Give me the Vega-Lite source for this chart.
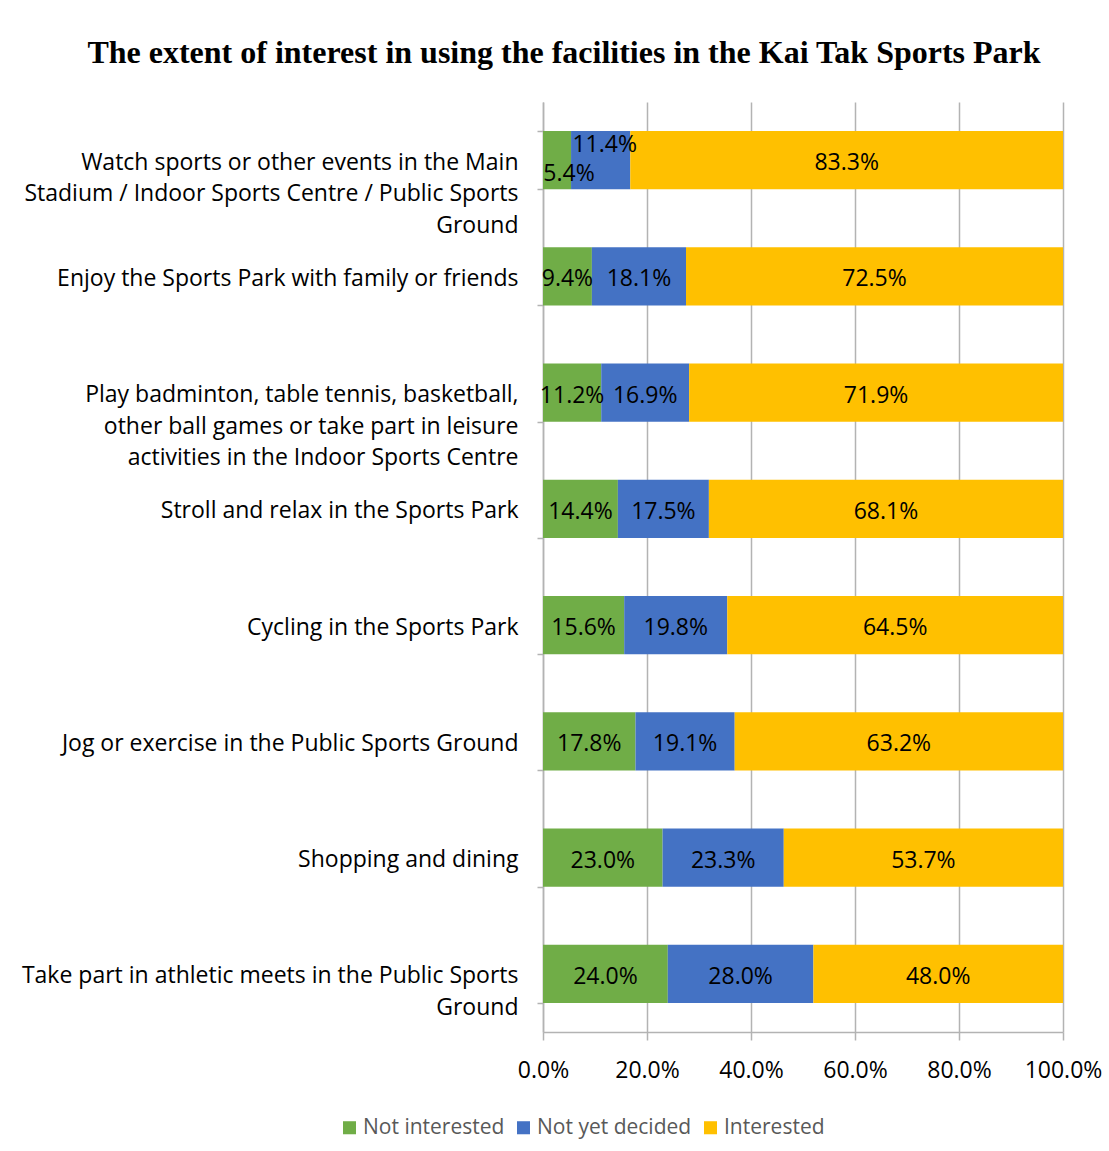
{
  "$schema": "https://vega.github.io/schema/vega-lite/v6.json",
  "width": 520,
  "height": 930,
  "autosize": {"type": "none"},
  "padding": {"left": 543, "top": 102, "right": 46, "bottom": 119},
  "background": "white",
  "config": {"view": {"stroke": null}},
  "title": {
    "text": "The extent of interest in using the facilities in the Kai Tak Sports Park",
    "font": "Liberation Serif",
    "fontSize": 32,
    "fontWeight": "bold",
    "color": "#000000",
    "anchor": "middle",
    "frame": "group",
    "dx": -239,
    "dy": 4,
    "baseline": "alphabetic",
    "offset": 0
  },
  "data": {
    "values": [
      {"item": "Watch sports or other events in the Main\nStadium / Indoor Sports Centre / Public Sports\nGround", "cat": "Not interested", "k": 1, "pct": 5.4},
      {"item": "Watch sports or other events in the Main\nStadium / Indoor Sports Centre / Public Sports\nGround", "cat": "Not yet decided", "k": 2, "pct": 11.4},
      {"item": "Watch sports or other events in the Main\nStadium / Indoor Sports Centre / Public Sports\nGround", "cat": "Interested", "k": 3, "pct": 83.3},
      {"item": "Enjoy the Sports Park with family or friends", "cat": "Not interested", "k": 1, "pct": 9.4},
      {"item": "Enjoy the Sports Park with family or friends", "cat": "Not yet decided", "k": 2, "pct": 18.1},
      {"item": "Enjoy the Sports Park with family or friends", "cat": "Interested", "k": 3, "pct": 72.5},
      {"item": "Play badminton, table tennis, basketball,\nother ball games or take part in leisure\nactivities in the Indoor Sports Centre", "cat": "Not interested", "k": 1, "pct": 11.2},
      {"item": "Play badminton, table tennis, basketball,\nother ball games or take part in leisure\nactivities in the Indoor Sports Centre", "cat": "Not yet decided", "k": 2, "pct": 16.9},
      {"item": "Play badminton, table tennis, basketball,\nother ball games or take part in leisure\nactivities in the Indoor Sports Centre", "cat": "Interested", "k": 3, "pct": 71.9},
      {"item": "Stroll and relax in the Sports Park", "cat": "Not interested", "k": 1, "pct": 14.4},
      {"item": "Stroll and relax in the Sports Park", "cat": "Not yet decided", "k": 2, "pct": 17.5},
      {"item": "Stroll and relax in the Sports Park", "cat": "Interested", "k": 3, "pct": 68.1},
      {"item": "Cycling in the Sports Park", "cat": "Not interested", "k": 1, "pct": 15.6},
      {"item": "Cycling in the Sports Park", "cat": "Not yet decided", "k": 2, "pct": 19.8},
      {"item": "Cycling in the Sports Park", "cat": "Interested", "k": 3, "pct": 64.5},
      {"item": "Jog or exercise in the Public Sports Ground", "cat": "Not interested", "k": 1, "pct": 17.8},
      {"item": "Jog or exercise in the Public Sports Ground", "cat": "Not yet decided", "k": 2, "pct": 19.1},
      {"item": "Jog or exercise in the Public Sports Ground", "cat": "Interested", "k": 3, "pct": 63.2},
      {"item": "Shopping and dining", "cat": "Not interested", "k": 1, "pct": 23.0},
      {"item": "Shopping and dining", "cat": "Not yet decided", "k": 2, "pct": 23.3},
      {"item": "Shopping and dining", "cat": "Interested", "k": 3, "pct": 53.7},
      {"item": "Take part in athletic meets in the Public Sports\nGround", "cat": "Not interested", "k": 1, "pct": 24.0},
      {"item": "Take part in athletic meets in the Public Sports\nGround", "cat": "Not yet decided", "k": 2, "pct": 28.0},
      {"item": "Take part in athletic meets in the Public Sports\nGround", "cat": "Interested", "k": 3, "pct": 48.0}
    ]
  },
  "transform": [
    {"stack": "pct", "groupby": ["item"], "sort": [{"field": "k", "order": "ascending"}], "offset": "normalize", "as": ["x0", "x1"]},
    {"calculate": "(datum.x0 + datum.x1) / 2", "as": "mid"},
    {"calculate": "format(datum.pct, '.1f') + '%'", "as": "lbl"}
  ],
  "encoding": {
    "y": {
      "field": "item",
      "type": "nominal",
      "sort": null,
      "scale": {"paddingInner": 0.5, "paddingOuter": 0.25},
      "axis": {
        "title": null,
        "labelExpr": "split(datum.label, '\\n')",
        "labelFont": "Open Sans",
        "labelFontSize": 23,
        "labelColor": "#000000",
        "labelLineHeight": 31.5,
        "labelLimit": 0,
        "labelPadding": 19,
        "labelOffset": 2,
        "tickSize": 6,
        "tickColor": "#b3b3b3",
        "tickWidth": 1.5,
        "domainColor": "#b3b3b3",
        "domainWidth": 1.5,
        "tickBand": "extent"
      }
    }
  },
  "layer": [
    {
      "mark": {"type": "bar"},
      "encoding": {
        "x": {
          "field": "x0",
          "type": "quantitative",
          "scale": {"domain": [0, 1], "nice": false},
          "axis": {
            "title": null,
            "values": [0, 0.2, 0.4, 0.6, 0.8, 1],
            "format": ".1%",
            "grid": true,
            "gridColor": "#b3b3b3",
            "gridWidth": 1.5,
            "domainColor": "#b3b3b3",
            "domainWidth": 1.5,
            "tickColor": "#b3b3b3",
            "tickWidth": 1.5,
            "tickSize": 8,
            "labelFont": "Open Sans",
            "labelFontSize": 23,
            "labelColor": "#000000",
            "labelPadding": 19,
            "labelFlush": false
          }
        },
        "x2": {"field": "x1"},
        "color": {
          "field": "cat",
          "type": "nominal",
          "scale": {"domain": ["Not interested", "Not yet decided", "Interested"], "range": ["#70AD47", "#4472C4", "#FFC000"]},
          "legend": {
            "title": null,
            "orient": "none",
            "direction": "horizontal",
            "legendX": -204,
            "legendY": 1015,
            "symbolType": "square",
            "symbolSize": 170,
            "symbolStrokeWidth": 0,
            "labelFont": "Open Sans",
            "labelFontSize": 21,
            "labelColor": "#595959",
            "labelOffset": 3,
            "columnPadding": 8,
            "labelLimit": 0
          }
        }
      }
    },
    {
      "transform": [{"filter": "indexof(datum.item, 'Watch') != 0 || datum.k == 3"}],
      "mark": {"type": "text", "font": "Open Sans", "fontSize": 23, "color": "#000000", "baseline": "middle", "align": "center", "dy": 3},
      "encoding": {
        "x": {"field": "mid", "type": "quantitative"},
        "text": {"field": "lbl", "type": "nominal"}
      }
    },
    {
      "transform": [{"filter": "indexof(datum.item, 'Watch') == 0 && datum.k == 2"}],
      "mark": {"type": "text", "font": "Open Sans", "fontSize": 23, "color": "#000000", "baseline": "middle", "align": "center", "dy": -15, "dx": 4},
      "encoding": {
        "x": {"field": "mid", "type": "quantitative"},
        "text": {"field": "lbl", "type": "nominal"}
      }
    },
    {
      "transform": [{"filter": "indexof(datum.item, 'Watch') == 0 && datum.k == 1"}],
      "mark": {"type": "text", "font": "Open Sans", "fontSize": 23, "color": "#000000", "baseline": "middle", "align": "center", "dy": 14, "dx": 12},
      "encoding": {
        "x": {"field": "mid", "type": "quantitative"},
        "text": {"field": "lbl", "type": "nominal"}
      }
    }
  ]
}
